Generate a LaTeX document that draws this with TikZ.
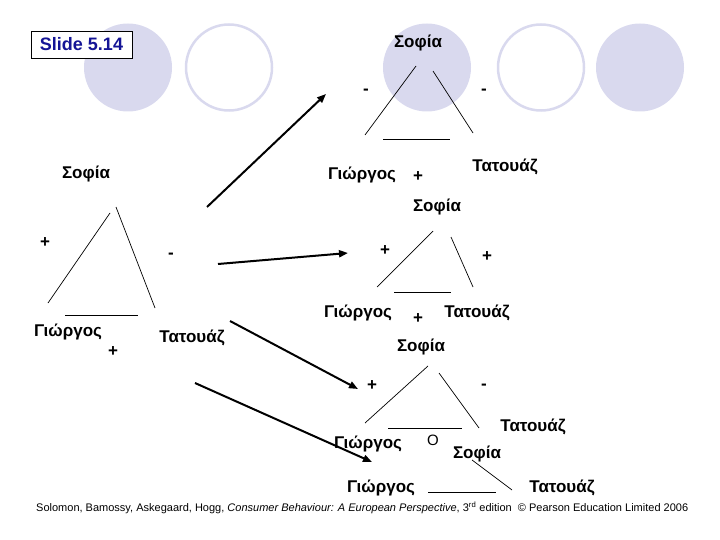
\documentclass[tikz,border=0pt]{standalone}
\usepackage{fontspec}
\setmainfont{Liberation Sans}
\usetikzlibrary{arrows.meta}
\definecolor{lav}{RGB}{217,217,238}
\definecolor{slideblue}{RGB}{20,20,150}
\tikzset{
  gk/.style={font=\fontsize{17}{19}\selectfont\bfseries, inner sep=0pt},
  sgn/.style={font=\fontsize{17}{19}\selectfont\bfseries, inner sep=0pt},
  tri/.style={line width=0.7pt, black},
  arr/.style={line width=2pt, -{Triangle[length=9pt,width=7pt]}},
  fillc/.style={fill=lav, draw=none},
  ringc/.style={draw=lav, line width=2.5pt},
}
\begin{document}
\begin{tikzpicture}[x=1pt,y=-1pt]
\useasboundingbox (0,0) rectangle (720,540);
% decorative circles
\fill[lav] (128,67.5) circle (44);
\draw[ringc] (229,67.5) circle (43);
\fill[lav] (427,67.5) circle (44);
\draw[ringc] (541,67.5) circle (43);
\fill[lav] (640,67.5) circle (44);
% slide label
\node[draw=black, line width=0.8pt, fill=white, minimum width=101pt, minimum height=27pt, inner sep=0pt,
  font=\fontsize{18}{20}\selectfont\bfseries, text=slideblue] (slide) at (81.5,44.5) {Slide 5.14};

% top triangle
\node[gk] (t1s) at (418,43) {Σοφία};
\node[gk] (t1g) at (362,175) {Γιώργος};
\node[gk] (t1t) at (505,167) {Τατουάζ};
\node[sgn] (t1m1) at (366,92) {-};
\node[sgn] (t1m2) at (484,92) {-};
\node[sgn] (t1p) at (418,177) {+};
\coordinate (t1a) at (416,66); \coordinate (t1b) at (365,135);
\coordinate (t1c) at (433,71); \coordinate (t1d) at (473,133);
\coordinate (t1e) at (383,139); \coordinate (t1f) at (450,139);
\draw[tri] (t1a) -- (t1b);
\draw[tri] (t1c) -- (t1d);
\draw[tri] (t1e) -- (t1f);

% left triangle
\node[gk] (l1s) at (86,174) {Σοφία};
\node[gk] (l1g) at (68,332) {Γιώργος};
\node[gk] (l1t) at (192,338) {Τατουάζ};
\node[sgn] (l1p1) at (45,243) {+};
\node[sgn] (l1m) at (171,256) {-};
\node[sgn] (l1p2) at (113,352) {+};
\coordinate (l1a) at (110,213); \coordinate (l1b) at (48,303);
\coordinate (l1c) at (116,207); \coordinate (l1d) at (155,308);
\coordinate (l1e) at (65,315); \coordinate (l1f) at (138,315);
\draw[tri] (l1a) -- (l1b);
\draw[tri] (l1c) -- (l1d);
\draw[tri] (l1e) -- (l1f);

% middle triangle
\node[gk] (m1s) at (437,207) {Σοφία};
\node[gk] (m1g) at (358,313) {Γιώργος};
\node[gk] (m1t) at (477,313) {Τατουάζ};
\node[sgn] (m1p1) at (385,251) {+};
\node[sgn] (m1p2) at (487,257) {+};
\node[sgn] (m1p3) at (418,319) {+};
\coordinate (m1a) at (433,231); \coordinate (m1b) at (377,287);
\coordinate (m1c) at (451,237); \coordinate (m1d) at (473,287);
\coordinate (m1e) at (394,292); \coordinate (m1f) at (451,292);
\draw[tri] (m1a) -- (m1b);
\draw[tri] (m1c) -- (m1d);
\draw[tri] (m1e) -- (m1f);

% lower triangle
\node[gk] (b1s) at (421,347) {Σοφία};
\node[gk] (b1g) at (368,444) {Γιώργος};
\node[gk] (b1t) at (533,427) {Τατουάζ};
\node[sgn] (b1p) at (372,386) {+};
\node[sgn] (b1m) at (484,387) {-};
\node[font=\fontsize{15}{17}\selectfont, inner sep=0pt] (b1o) at (433,440) {O};
\coordinate (b1a) at (428,366); \coordinate (b1b) at (365,423);
\coordinate (b1c) at (439,373); \coordinate (b1d) at (479,428);
\coordinate (b1e) at (388,428); \coordinate (b1f) at (462,428);
\draw[tri] (b1a) -- (b1b);
\draw[tri] (b1c) -- (b1d);
\draw[tri] (b1e) -- (b1f);

% bottom triangle
\node[gk] (c1s) at (477,454) {Σοφία};
\node[gk] (c1g) at (381,488) {Γιώργος};
\node[gk] (c1t) at (562,488) {Τατουάζ};
\coordinate (c1a) at (472,460); \coordinate (c1b) at (512,490);
\coordinate (c1e) at (428,492); \coordinate (c1f) at (496,492);
\draw[tri] (c1a) -- (c1b);
\draw[tri] (c1e) -- (c1f);

% arrows
\coordinate (a1s) at (207,207); \coordinate (a1e) at (326,94);
\coordinate (a2s) at (218,264); \coordinate (a2e) at (348,253);
\coordinate (a3s) at (230,321); \coordinate (a3e) at (358,389);
\coordinate (a4s) at (195,383); \coordinate (a4e) at (372,462);
\draw[arr] (a1s) -- (a1e);
\draw[arr] (a2s) -- (a2e);
\draw[arr] (a3s) -- (a3e);
\draw[arr] (a4s) -- (a4e);

% footer
\node[inner sep=0pt, anchor=west] (foot) at (36,508) {\resizebox{652pt}{!}{\fontsize{10}{12}\selectfont Solomon, Bamossy, Askegaard, Hogg, \textit{Consumer Behaviour: A European Perspective}, 3\textsuperscript{rd} edition\ \ © Pearson Education Limited 2006}};
\end{tikzpicture}
\end{document}
